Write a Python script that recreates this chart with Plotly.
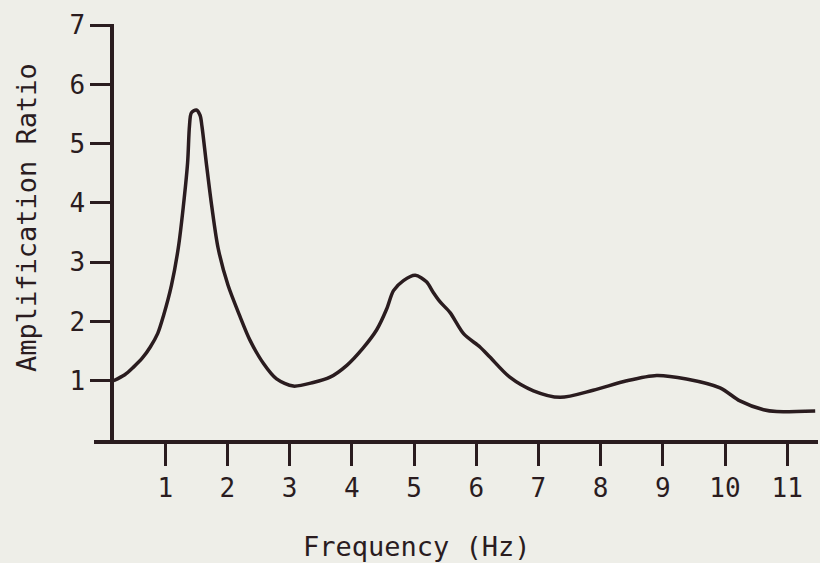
import plotly.graph_objects as go

# Curve (frequency in Hz, amplification ratio)
freq = [0.17, 0.35, 0.49, 0.63, 0.76, 0.88, 0.97, 1.10, 1.21, 1.29, 1.36, 1.39, 1.42,
        1.50, 1.56, 1.59, 1.66, 1.75, 1.85, 2.01, 2.20, 2.36, 2.58, 2.79, 3.06, 3.38,
        3.65, 3.92, 4.18, 4.40, 4.56, 4.67, 4.83, 5.02, 5.20, 5.31, 5.42, 5.58, 5.80,
        6.06, 6.22, 6.54, 6.92, 7.35, 7.88, 8.42, 8.90, 9.38, 9.92, 10.24, 10.62,
        10.83, 11.45]
ratio = [1.00, 1.10, 1.23, 1.38, 1.57, 1.80, 2.09, 2.61, 3.24, 3.93, 4.68, 5.30, 5.52,
         5.57, 5.48, 5.30, 4.68, 3.93, 3.24, 2.61, 2.09, 1.69, 1.29, 1.03, 0.91, 0.97,
         1.06, 1.26, 1.55, 1.86, 2.21, 2.52, 2.69, 2.78, 2.67, 2.49, 2.33, 2.15, 1.79,
         1.57, 1.40, 1.06, 0.83, 0.72, 0.84, 1.00, 1.09, 1.03, 0.88, 0.66, 0.51,
         0.48, 0.49]

x_ticks = [1, 2, 3, 4, 5, 6, 7, 8, 9, 10, 11]
x_tick_labels = ["1", "2", "3", "4", "5", "6", "7", "8", "9", "10", "11"]
y_ticks = [1, 2, 3, 4, 5, 6, 7]
y_tick_labels = ["1", "2", "3", "4", "5", "6", "7"]

x_title = "Frequency (Hz)"
y_title = "Amplification Ratio"

ink = "#2a1c1f"
bg = "#eeeee8"
font = "DejaVu Sans Mono"

fig = go.Figure()
fig.add_trace(go.Scatter(x=freq, y=ratio, mode="lines",
                         line=dict(color=ink, width=3.5, shape="spline", smoothing=0.8),
                         hoverinfo="skip", showlegend=False))

fig.update_layout(
    width=820, height=563,
    margin=dict(l=94, r=2, t=24, b=123),
    paper_bgcolor=bg, plot_bgcolor=bg,
    font=dict(family=font, color=ink),
    xaxis=dict(range=[-0.145, 11.495], showgrid=False, zeroline=False,
               showline=True, linecolor=ink, linewidth=4,
               ticks="outside", ticklen=22, tickwidth=3, tickcolor=ink,
               tickvals=x_ticks, ticktext=x_tick_labels,
               tickfont=dict(size=26, family=font, color=ink)),
    yaxis=dict(range=[0, 7.02], showgrid=False, zeroline=False,
               anchor="free", position=0.0249,
               showline=True, linecolor=ink, linewidth=3.5,
               ticks="outside", ticklen=20, tickwidth=3, tickcolor=ink,
               tickvals=y_ticks, ticktext=y_tick_labels,
               tickfont=dict(size=26, family=font, color=ink)),
    annotations=[
        dict(text=x_title, xref="paper", yref="paper", x=0.446, y=-0.255,
             showarrow=False, xanchor="center", yanchor="middle",
             font=dict(size=27, family=font, color=ink)),
        dict(text=y_title, xref="paper", yref="paper", x=-0.093, y=0.535,
             showarrow=False, xanchor="center", yanchor="middle", textangle=-90,
             font=dict(size=27, family=font, color=ink)),
    ],
)

fig.write_html("out.html")
